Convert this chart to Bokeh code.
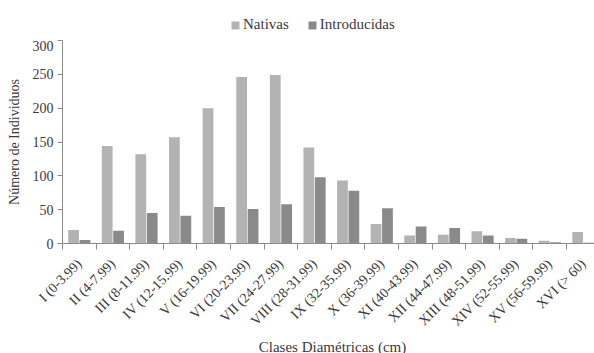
import numpy as np
from bokeh.plotting import figure
from bokeh.layouts import column
from bokeh.models import Range1d, FixedTicker, Legend, LegendItem, ColumnDataSource, Label
from bokeh.embed import file_html
from bokeh.resources import INLINE

categories = ["I (0-3.99)", "II (4-7.99)", "III (8-11.99)", "IV (12-15.99)", "V (16-19.99)",
              "VI (20-23.99)", "VII (24-27.99)", "VIII (28-31.99)", "IX (32-35.99)",
              "X (36-39.99)", "XI (40-43.99)", "XII (44-47.99)", "XIII (48-51.99)",
              "XIV (52-55.99)", "XV (56-59.99)", "XVI (> 60)"]
nativas = [20, 144, 132, 157, 200, 246, 249, 142, 93, 29, 12, 13, 18, 8, 4, 17]
introducidas = [5, 19, 45, 41, 54, 51, 58, 98, 78, 52, 25, 23, 12, 7, 2, 1]
y_ticks = [0, 50, 100, 150, 200, 250, 300]
series_names = ["Nativas", "Introducidas"]
series_colors = ["#b3b3b3", "#8a8a8a"]
x_title = "Clases Diamétricas (cm)"
y_title = "Número de Individuos"

FONT = "Liberation Serif"
TXT = "#3a3a3a"
W = 594

idx = np.arange(len(categories))
src = ColumnDataSource(dict(xn=idx + 0.33, xi=idx + 0.67, nat=nativas, intro=introducidas))

p = figure(frame_width=532, frame_height=203, output_backend="svg", toolbar_location=None,
           x_range=Range1d(0, 15.83), y_range=Range1d(0, 300),
           min_border_left=62, min_border_right=0, min_border_top=0, min_border_bottom=0,
           background_fill_color="white", border_fill_color="white", outline_line_color=None)

p.vbar(x="xn", top="nat", width=0.32, source=src, fill_color=series_colors[0], line_color=None)
p.vbar(x="xi", top="intro", width=0.32, source=src, fill_color=series_colors[1], line_color=None)

p.xgrid.visible = False
p.ygrid.visible = False

# x axis: labels at category centers, tick marks at boundaries (minor)
xa = p.xaxis[0]
xa.ticker = FixedTicker(ticks=list(idx + 0.5), minor_ticks=list(range(len(categories) + 1)))
xa.major_label_overrides = {float(i + 0.5): c for i, c in enumerate(categories)}
xa.major_label_orientation = np.pi / 4
xa.major_tick_out = 0
xa.major_tick_in = 0
xa.minor_tick_out = 6
xa.minor_tick_in = 0
xa.minor_tick_line_color = "#8c8c8c"
xa.axis_line_color = "#8c8c8c"
xa.major_label_text_font = FONT
xa.major_label_text_font_size = "14px"
xa.major_label_text_color = TXT
xa.major_label_standoff = 12

ya = p.yaxis[0]
ya.ticker = FixedTicker(ticks=y_ticks)
ya.minor_tick_line_color = None
ya.major_tick_out = 5
ya.major_tick_in = 0
ya.major_tick_line_color = "#8c8c8c"
ya.axis_line_color = "#8c8c8c"
ya.major_label_text_font = FONT
ya.major_label_text_font_size = "14px"
ya.major_label_text_color = TXT
ya.major_label_standoff = 4
ya.axis_label = y_title
ya.axis_label_text_font = FONT
ya.axis_label_text_font_size = "14px"
ya.axis_label_text_font_style = "normal"
ya.axis_label_text_color = TXT
ya.axis_label_standoff = 8

# legend strip above the chart (frames are aligned with the main chart)
lg = figure(width=W, height=40, output_backend="svg", toolbar_location=None,
            x_range=Range1d(0, 1), y_range=Range1d(0, 1),
            x_axis_location=None, y_axis_location=None,
            min_border=0, outline_line_color=None,
            background_fill_color="white", border_fill_color="white")
lg.grid.visible = False
items = []
for name, col in zip(series_names, series_colors):
    r = lg.quad(left=[np.nan], right=[np.nan], top=[np.nan], bottom=[np.nan],
                fill_color=col, line_color=None)
    items.append(LegendItem(label=name, renderers=[r]))
legend = Legend(items=items, orientation="horizontal", location=(168, 7),
                label_text_font=FONT, label_text_font_size="15px", label_text_color=TXT,
                glyph_width=10, glyph_height=10, label_standoff=3, spacing=18,
                padding=0, margin=0, border_line_color=None, background_fill_alpha=0)
lg.add_layout(legend, "center")

# x-axis title strip below the chart
ts = figure(width=W, height=16, output_backend="svg", toolbar_location=None,
            x_range=Range1d(0, 1), y_range=Range1d(0, 1),
            x_axis_location=None, y_axis_location=None,
            min_border=0, outline_line_color=None,
            background_fill_color="white", border_fill_color="white")
ts.grid.visible = False
ts.add_layout(Label(x=270, y=7, x_units="screen", y_units="screen", text=x_title,
                    text_font=FONT, text_font_size="15px", text_color=TXT,
                    text_align="center", text_baseline="middle"))

layout = column(lg, p, ts, spacing=0)
open("out.html", "w").write(file_html(layout, INLINE))
